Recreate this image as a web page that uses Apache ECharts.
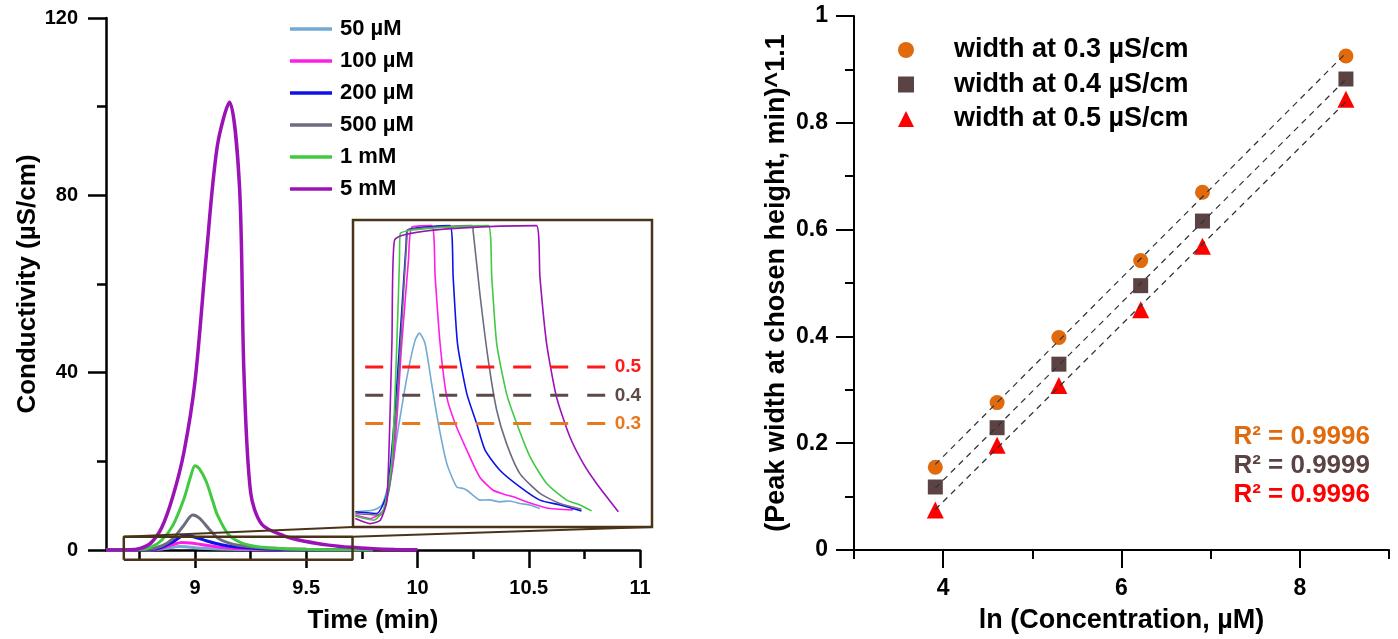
<!DOCTYPE html>
<html><head><meta charset="utf-8">
<script src="https://cdn.jsdelivr.net/npm/echarts@6/dist/echarts.min.js"></script>
<style>html,body{margin:0;padding:0;background:#fff}#c{width:1398px;height:639px}</style>
</head><body><div id="c"></div>
<script>
const FONT = "'Liberation Sans', Arial, Helvetica, sans-serif";

// ---------- Left chart: chromatograms (time, min / conductivity, µS/cm) ----------
const seriesNames  = ['50 µM', '100 µM', '200 µM', '500 µM', '1 mM', '5 mM'];
const seriesColors = ['#72aad4', '#ff1ee6', '#0c12e8', '#6c6c80', '#42c942', '#9b12b6'];

const t50  = [8.6, 8.8, 8.84, 8.88, 8.91, 8.93, 8.96, 9.0, 9.05, 9.1, 9.2, 9.3, 9.4, 9.6, 9.8];
const c50  = [0, 0.02, 0.15, 0.45, 0.7, 0.8, 0.72, 0.5, 0.32, 0.2, 0.1, 0.05, 0.02, 0.01, 0];
const t100 = [8.6, 8.8, 8.85, 8.9, 8.94, 8.98, 9.02, 9.05, 9.1, 9.15, 9.2, 9.3, 9.4, 9.5, 9.8];
const c100 = [0, 0.05, 0.4, 1.2, 1.7, 1.6, 1.3, 1.05, 0.7, 0.45, 0.3, 0.15, 0.08, 0.03, 0];
const t200 = [8.6, 8.8, 8.85, 8.9, 8.95, 8.98, 9.02, 9.05, 9.1, 9.15, 9.2, 9.3, 9.4, 9.5, 9.6, 9.8];
const c200 = [0, 0.1, 0.6, 1.8, 3.2, 3.1, 2.6, 2.1, 1.4, 0.9, 0.6, 0.3, 0.15, 0.08, 0.03, 0];
const t500 = [8.6, 8.78, 8.85, 8.9, 8.95, 8.99, 9.02, 9.05, 9.1, 9.15, 9.2, 9.3, 9.4, 9.5, 9.6, 9.8];
const c500 = [0, 0.1, 0.9, 2.5, 5.6, 7.9, 7.2, 5.5, 2.8, 1.6, 1.0, 0.5, 0.3, 0.15, 0.08, 0];
const t1m  = [8.6, 8.75, 8.8, 8.85, 8.9, 8.95, 8.98, 9.0, 9.02, 9.05, 9.08, 9.1, 9.15, 9.2, 9.25, 9.3, 9.4, 9.5, 9.6, 9.8];
const c1m  = [0, 0.1, 0.6, 2.2, 5.5, 11.5, 16.5, 19, 18.3, 15.5, 11, 8, 3.5, 1.8, 1.0, 0.6, 0.3, 0.15, 0.08, 0];
const t5m  = [8.6, 8.7, 8.75, 8.8, 8.85, 8.9, 8.95, 9.0, 9.05, 9.1, 9.155, 9.2, 9.22, 9.25, 9.3, 9.4, 9.5, 9.6, 9.7, 9.8, 9.9, 10.0];
const c5m  = [0, 0.05, 0.3, 1.5, 5, 12, 22, 38, 66, 91, 101, 82, 40, 13, 5.8, 3.2, 1.9, 1.1, 0.6, 0.3, 0.12, 0.03];

const mainTimes  = [t50, t100, t200, t500, t1m, t5m];
const mainValues = [c50, c100, c200, c500, c1m, c5m];

const timeLabelTicks = [9, 9.5, 10, 10.5, 11];
const timeMinorTicks = [8.75, 9.25, 9.75, 10.25, 10.75];

// zoom-box marker on the main chart (time, conductivity)
const zoomBoxT = [8.68, 9.708];
const zoomBoxC = [-2.2, 3.0];

// ---------- Inset (zoomed baseline region) ----------
const insetXRange = [8.68, 9.71];
const insetYRange = [-0.066, 1.02];
const it50  = [8.688, 8.75, 8.78, 8.808, 8.837, 8.866, 8.894, 8.909, 8.928, 8.951, 8.974, 9.003, 9.037, 9.06, 9.072, 9.095, 9.117, 9.15, 9.186, 9.22, 9.255, 9.29, 9.324];
const ic50  = [-0.012, -0.006, 0.012, 0.11, 0.29, 0.465, 0.595, 0.62, 0.584, 0.44, 0.30, 0.159, 0.076, 0.07, 0.064, 0.045, 0.029, 0.03, 0.023, 0.026, 0.017, 0.012, -0.001];
const it100 = [8.688, 8.739, 8.785, 8.82, 8.848, 8.871, 8.883, 8.951, 8.963, 8.98, 9.003, 9.032, 9.072, 9.117, 9.163, 9.2, 9.232, 9.278, 9.347, 9.438];
const ic100 = [-0.024, -0.036, -0.006, 0.17, 0.583, 0.877, 0.995, 1.0, 0.818, 0.583, 0.394, 0.30, 0.206, 0.11, 0.064, 0.05, 0.041, 0.023, 0.0015, -0.006];
const it200 = [8.688, 8.762, 8.797, 8.825, 8.848, 8.863, 8.868, 9.014, 9.025, 9.04, 9.072, 9.106, 9.135, 9.186, 9.255, 9.324, 9.393, 9.467];
const ic200 = [-0.012, -0.018, 0.053, 0.347, 0.701, 0.936, 0.985, 1.0, 0.818, 0.583, 0.406, 0.30, 0.206, 0.135, 0.076, 0.029, 0.012, -0.009];
const it500 = [8.688, 8.774, 8.808, 8.837, 8.854, 8.866, 8.87, 9.09, 9.094, 9.117, 9.146, 9.175, 9.209, 9.255, 9.324, 9.393, 9.467];
const ic500 = [-0.018, -0.024, 0.088, 0.465, 0.76, 0.96, 0.985, 1.0, 0.98, 0.76, 0.524, 0.347, 0.229, 0.123, 0.053, 0.017, -0.003];
const it1m  = [8.688, 8.72, 8.751, 8.785, 8.814, 8.831, 8.84, 8.843, 9.146, 9.158, 9.175, 9.209, 9.244, 9.29, 9.347, 9.416, 9.462, 9.502];
const ic1m  = [-0.027, -0.036, -0.042, -0.006, 0.17, 0.583, 0.877, 0.973, 1.0, 0.818, 0.583, 0.406, 0.30, 0.182, 0.088, 0.029, 0.012, -0.009];
const it5m  = [8.688, 8.739, 8.774, 8.797, 8.814, 8.823, 9.312, 9.324, 9.347, 9.381, 9.427, 9.473, 9.519, 9.594];
const ic5m  = [-0.036, -0.054, -0.042, 0.029, 0.583, 0.948, 1.0, 0.818, 0.583, 0.394, 0.253, 0.159, 0.088, -0.012];
const insetTimes  = [it50, it100, it200, it500, it1m, it5m];
const insetValues = [ic50, ic100, ic200, ic500, ic1m, ic5m];

const refLevels = [0.5, 0.4, 0.3];
const refLabels = ['0.5', '0.4', '0.3'];
const refColors = ['#ff1a1a', '#5e4848', '#e8781e'];
const refSpanT  = [8.722, 9.554];

// ---------- Right chart: peak width vs ln(concentration) ----------
const lnConc = [3.912, 4.605, 5.298, 6.215, 6.908, 8.517];
const width03 = [0.155, 0.276, 0.398, 0.542, 0.670, 0.925];
const width04 = [0.118, 0.229, 0.348, 0.495, 0.616, 0.882];
const width05 = [0.075, 0.196, 0.308, 0.450, 0.569, 0.844];
const widthNames   = ['width at 0.3 µS/cm', 'width at 0.4 µS/cm', 'width at 0.5 µS/cm'];
const widthColors  = ['#e06a0c', '#5c4343', '#ff0000'];
const widthSymbols = ['circle', 'rect', 'triangle'];
const widthSizes   = [15, 15, 17];
const r2Labels = ['R² = 0.9996', 'R² = 0.9999', 'R² = 0.9996'];
const lnLabelTicks = [4, 6, 8];
const lnMinorTicks = [3, 5, 7, 9];

const BROWN = '#4a3418';
const pairs = (t, v) => t.map((x, i) => [x, v[i]]);
function fit(x, y) {
  const n = x.length;
  const mx = x.reduce((a, b) => a + b, 0) / n, my = y.reduce((a, b) => a + b, 0) / n;
  let sxy = 0, sxx = 0;
  for (let i = 0; i < n; i++) { sxy += (x[i] - mx) * (y[i] - my); sxx += (x[i] - mx) ** 2; }
  const b = sxy / sxx, a = my - b * mx;
  return [[x[0], a + b * x[0]], [x[n - 1], a + b * x[n - 1]]];
}

const chart = echarts.init(document.getElementById('c'));
const bold = (s) => ({ fontFamily: FONT, fontWeight: 'bold', fontSize: s, color: '#000' });

const series = [];
seriesNames.forEach((n, i) => series.push({
  name: n, type: 'line', xAxisIndex: 0, yAxisIndex: 0, data: pairs(mainTimes[i], mainValues[i]),
  symbol: 'none', smooth: 0.3, color: seriesColors[i],
  lineStyle: { width: i === 5 ? 3.5 : 3, color: seriesColors[i] }, z: 3 + i, silent: true
}));
series.push({
  type: 'line', xAxisIndex: 0, yAxisIndex: 0, symbol: 'none', clip: false, silent: true, z: 20,
  data: [[zoomBoxT[0], zoomBoxC[0]], [zoomBoxT[1], zoomBoxC[0]], [zoomBoxT[1], zoomBoxC[1]], [zoomBoxT[0], zoomBoxC[1]], [zoomBoxT[0], zoomBoxC[0]]],
  lineStyle: { color: BROWN, width: 2.5 }
});
seriesNames.forEach((n, i) => series.push({
  name: n, type: 'line', xAxisIndex: 4, yAxisIndex: 2, data: pairs(insetTimes[i], insetValues[i]),
  symbol: 'none', smooth: 0.2, color: seriesColors[i],
  lineStyle: { width: 1.6, color: seriesColors[i] }, z: 15 + i, silent: true
}));
refLevels.forEach((lv, i) => series.push({
  type: 'line', xAxisIndex: 4, yAxisIndex: 2, symbol: 'none', silent: true, z: 25, clip: false,
  data: [[refSpanT[0], lv], [refSpanT[1], lv]],
  lineStyle: { color: refColors[i], width: 3, type: [18, 19] },
  endLabel: { show: true, formatter: refLabels[i], distance: 8, fontFamily: FONT, fontWeight: 'bold', fontSize: 19, color: refColors[i] }
}));
const widthData = [width03, width04, width05];
widthNames.forEach((n, i) => {
  series.push({
    name: n, type: 'scatter', xAxisIndex: 2, yAxisIndex: 1, data: pairs(lnConc, widthData[i]),
    symbol: widthSymbols[i], symbolSize: widthSizes[i], itemStyle: { color: widthColors[i], opacity: 1 }, z: 5
  });
  series.push({
    type: 'line', xAxisIndex: 2, yAxisIndex: 1, data: fit(lnConc, widthData[i]), symbol: 'none', silent: true, z: 8,
    lineStyle: { color: '#333', width: 1.2, type: [6, 5] }
  });
});

const axisLine = (w) => ({ show: true, lineStyle: { color: '#000', width: w } });
const option = {
  animation: false,
  backgroundColor: '#fff',
  grid: [
    { left: 106, top: 18, width: 534, height: 534 },
    { left: 854, top: 16, width: 535, height: 535 },
    { left: 353, top: 220, width: 299, height: 307, show: true, backgroundColor: '#fff', borderColor: BROWN, borderWidth: 2.5, z: 10 }
  ],
  legend: [
    { data: seriesNames.map((n) => ({ name: n, icon: 'rect' })), left: 285, top: 12, orient: 'vertical', itemWidth: 42, itemHeight: 3.5, itemGap: 8,
      textStyle: Object.assign(bold(22), { lineHeight: 24, padding: [0, 0, 0, 3] }), selectedMode: false },
    { data: widthNames.map((n, i) => ({ name: n, icon: widthSymbols[i] })), left: 893, top: 31, orient: 'vertical',
      itemWidth: 16, itemHeight: 16, itemGap: 6.5,
      textStyle: Object.assign(bold(27), { lineHeight: 28, padding: [0, 0, 0, 35] }), selectedMode: false }
  ],
  xAxis: [
    { gridIndex: 0, type: 'value', min: 8.6, max: 11, position: 'bottom', axisLine: axisLine(2.5), splitLine: { show: false },
      axisTick: { customValues: timeLabelTicks, length: 18, lineStyle: { width: 2.5, color: '#000' } },
      axisLabel: Object.assign(bold(20), { customValues: timeLabelTicks, margin: 28 }),
      name: 'Time (min)', nameLocation: 'middle', nameGap: 58, nameTextStyle: bold(26) },
    { gridIndex: 0, type: 'value', min: 8.6, max: 11, position: 'bottom', axisLine: { show: false }, splitLine: { show: false },
      axisTick: { customValues: timeMinorTicks, length: 9, lineStyle: { width: 2.5, color: '#000' } }, axisLabel: { show: false } },
    { gridIndex: 1, type: 'value', min: 3, max: 9, position: 'bottom', axisLine: axisLine(2), splitLine: { show: false },
      axisTick: { customValues: lnLabelTicks, length: 18, lineStyle: { width: 2, color: '#000' } },
      axisLabel: Object.assign(bold(23), { customValues: lnLabelTicks, margin: 27 }),
      name: 'ln (Concentration, µM)', nameLocation: 'middle', nameGap: 57, nameTextStyle: bold(27) },
    { gridIndex: 1, type: 'value', min: 3, max: 9, position: 'bottom', axisLine: { show: false }, splitLine: { show: false },
      axisTick: { customValues: lnMinorTicks, length: 9, lineStyle: { width: 2, color: '#000' } }, axisLabel: { show: false } },
    { gridIndex: 2, type: 'value', min: insetXRange[0], max: insetXRange[1], show: false }
  ],
  yAxis: [
    { gridIndex: 0, type: 'value', min: 0, max: 120, interval: 40, axisLine: axisLine(2.5), splitLine: { show: false },
      axisTick: { length: 18, lineStyle: { width: 2.5, color: '#000' } },
      minorTick: { show: true, splitNumber: 2, length: 9, lineStyle: { width: 2.5, color: '#000' } }, minorSplitLine: { show: false },
      axisLabel: Object.assign(bold(20), { margin: 28 }),
      name: 'Conductivity (µS/cm)', nameLocation: 'middle', nameGap: 64, nameTextStyle: bold(26) },
    { gridIndex: 1, type: 'value', min: 0, max: 1, interval: 0.2, axisLine: axisLine(2), splitLine: { show: false },
      axisTick: { length: 18, lineStyle: { width: 2, color: '#000' } },
      minorTick: { show: true, splitNumber: 2, length: 9, lineStyle: { width: 2, color: '#000' } }, minorSplitLine: { show: false },
      axisLabel: Object.assign(bold(23), { margin: 26 }),
      name: '(Peak width at chosen height, min)^1.1', nameLocation: 'middle', nameGap: 64, nameTextStyle: bold(27) },
    { gridIndex: 2, type: 'value', min: insetYRange[0], max: insetYRange[1], show: false }
  ],
  series: series
};
chart.setOption(option);

// connectors from the zoom box to the inset + R² annotations
const pA = chart.convertToPixel({ xAxisIndex: 0, yAxisIndex: 0 }, [zoomBoxT[0], zoomBoxC[1]]);
const pB = chart.convertToPixel({ xAxisIndex: 0, yAxisIndex: 0 }, [zoomBoxT[1], zoomBoxC[1]]);
const qA = chart.convertToPixel({ xAxisIndex: 4, yAxisIndex: 2 }, [insetXRange[0], insetYRange[0]]);
const qB = chart.convertToPixel({ xAxisIndex: 4, yAxisIndex: 2 }, [insetXRange[1], insetYRange[0]]);
const graphics = [
  { type: 'line', shape: { x1: pA[0], y1: pA[1], x2: qA[0], y2: qA[1] }, style: { stroke: BROWN, lineWidth: 2 }, z: 30 },
  { type: 'line', shape: { x1: pB[0], y1: pB[1], x2: qB[0], y2: qB[1] }, style: { stroke: BROWN, lineWidth: 2 }, z: 30 }
];
r2Labels.forEach((s, i) => graphics.push({
  type: 'text', right: 1398 - 1370, top: 424 + i * 29, z: 30,
  style: { text: s, fill: widthColors[i], font: 'bold 26px ' + FONT, textAlign: 'right' }
}));
chart.setOption({ graphic: graphics });
</script></body></html>
